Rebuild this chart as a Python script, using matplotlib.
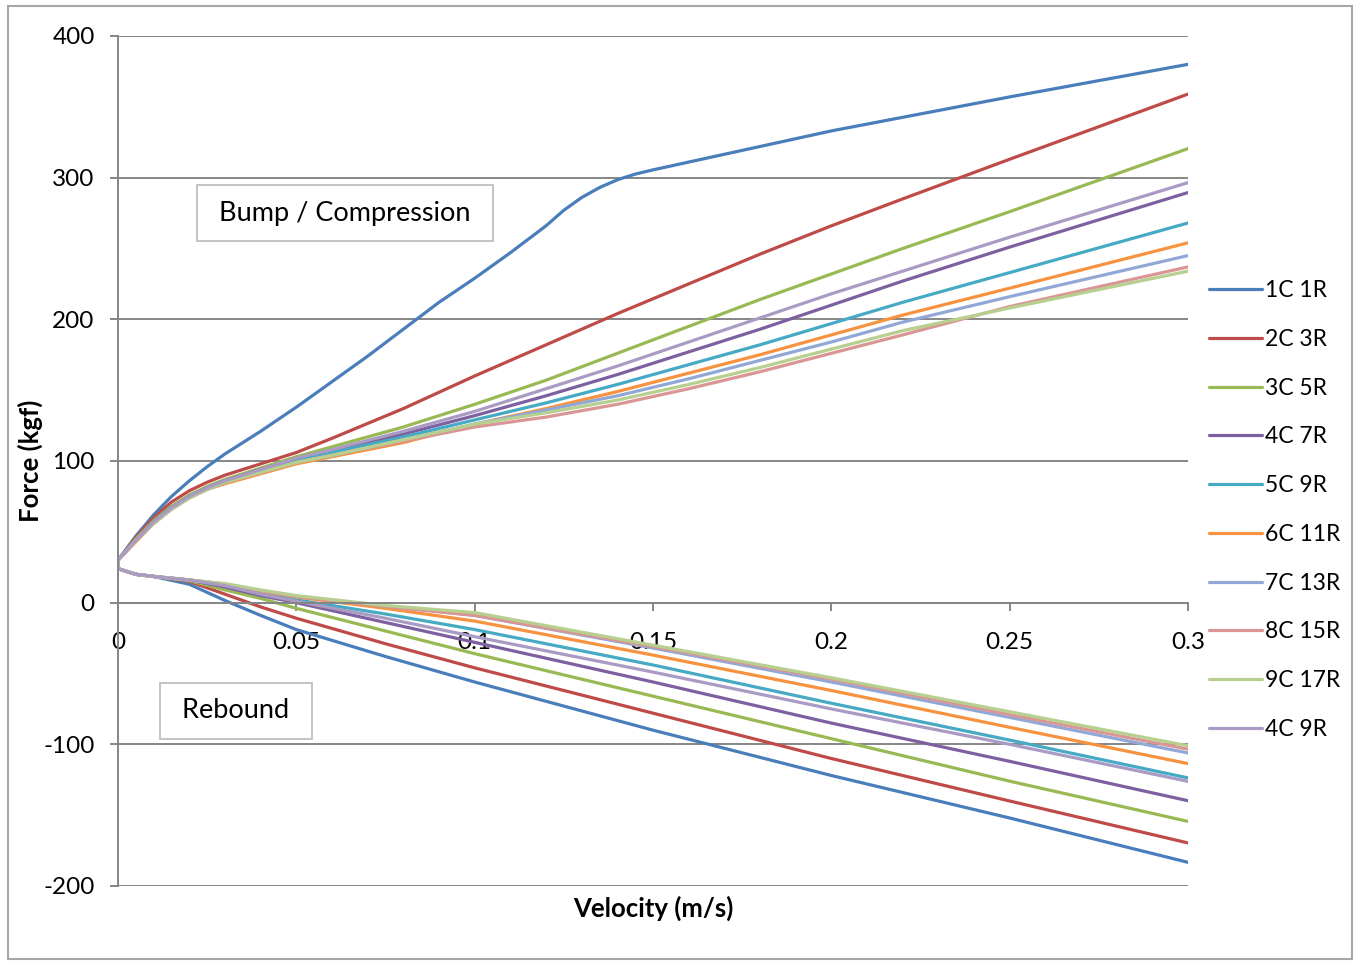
import numpy as np
import matplotlib
matplotlib.use("Agg")
import matplotlib.pyplot as plt
from matplotlib.patches import Rectangle

plt.rcParams['font.family'] = ['Lato', 'DejaVu Sans']

labels = ["1C 1R", "2C 3R", "3C 5R", "4C 7R", "5C 9R",
          "6C 11R", "7C 13R", "8C 15R", "9C 17R", "4C 9R"]
colors = ["#4A7EBB", "#BE4B48", "#98B954", "#7D60A0", "#46AAC5",
          "#F69240", "#91A8D6", "#D99694", "#B7D08F", "#A99BC4"]

# compression (bump) side, velocity in m/s, force in kgf
cx_blue = [0, .005, .01, .015, .02, .025, .03, .04, .05, .06, .07, .08, .09,
           .1, .11, .12, .125, .13, .135, .14, .145, .15, .16, .18, .2, .25, .3]
c_1c1r = [30, 47, 62, 75, 86, 96, 105, 121, 138, 156, 174, 193, 212,
          229, 247, 266, 277, 286, 293, 298.5, 302.5, 305.5, 311, 322, 333, 357, 380]

cx = [0, .005, .01, .015, .02, .025, .03, .04, .05, .06, .08, .1, .12, .14,
      .16, .18, .2, .22, .25, .3]
c_2c3r = [30, 46, 60, 71, 79, 85, 90, 98, 106, 116, 137, 160, 182, 204, 225, 246, 266, 285, 313, 359]
c_3c5r = [30, 45, 58, 68, 76, 82, 87, 95, 103, 110, 124, 140, 157, 176, 195, 214, 232, 250, 276, 320.5]
c_4c7r = [30, 44, 57, 67, 75, 81, 86, 94, 101, 107, 119, 132, 146, 161, 177, 193, 210, 227, 251, 289.5]
c_5c9r = [30, 44, 57, 67, 75, 81, 86, 93, 100, 106, 117, 129, 141, 154, 168, 182, 197, 212, 233, 268]
c_6c11r = [30, 43, 56, 66, 74, 80, 84, 91, 98, 103, 113, 126, 137, 149, 162, 175, 189, 203, 222, 254]
c_7c13r = [30, 44, 56, 66, 74, 80, 85, 92, 99, 104, 115, 126, 136, 146, 158, 171, 184, 198, 216, 245]
c_8c15r = [30, 44, 56, 66, 74, 80, 85, 92, 99, 104, 114, 124, 131, 140, 151, 163, 176, 189, 209, 237]
c_9c17r = [30, 44, 56, 66, 74, 80, 85, 92, 99, 104, 115, 126, 134, 143, 154, 166, 179, 192, 208, 234]
c_4c9r = [30, 44, 57, 67, 75, 81, 86, 94, 102, 108, 121, 135, 151, 167, 184, 201, 218, 234, 258, 296.5]

# rebound side
rx = [0, .005, .01, .02, .03, .04, .05, .075, .1, .15, .2, .25, .3]
r_1c1r = [24, 20, 18.5, 13, 1.5, -9, -19, -38, -56, -90, -122, -152, -183.3]
r_2c3r = [24, 20, 18.5, 15, 6, -3, -11, -29, -46, -78, -110, -140, -169.6]
r_3c5r = [24, 20, 18.5, 15.5, 9, 3, -4, -20, -36, -66, -96, -126, -154.4]
r_4c7r = [24, 20, 18.5, 16, 11, 5, 0, -14, -28, -56, -85, -112, -139.8]
r_5c9r = [24, 20, 18.5, 16, 12.5, 7, 2, -8, -19, -44, -71, -97, -123.7]
r_6c11r = [24, 20, 18.5, 16, 13, 8, 4, -4, -13, -37, -62, -88, -113.6]
r_7c13r = [24, 20, 18.5, 16, 13, 8.5, 4.5, -2.5, -9, -32, -56, -81, -106.1]
r_8c15r = [24, 20, 18.5, 16, 13, 8.5, 4.5, -2.5, -9, -31, -54, -79, -103.4]
r_9c17r = [24, 20, 18.5, 16, 13.5, 9, 5, -2, -7, -30, -53, -77, -101]
r_4c9r = [24, 20, 18.5, 16, 12, 6, 1, -11, -24, -49, -75, -100, -126.1]

xticks = [0, 0.05, 0.1, 0.15, 0.2, 0.25, 0.3]
xticklabels = ["0", "0.05", "0.1", "0.15", "0.2", "0.25", "0.3"]
yticks = [-200, -100, 0, 100, 200, 300, 400]

comp = [(cx_blue, c_1c1r), (cx, c_2c3r), (cx, c_3c5r), (cx, c_4c7r), (cx, c_5c9r),
        (cx, c_6c11r), (cx, c_7c13r), (cx, c_8c15r), (cx, c_9c17r), (cx, c_4c9r)]
reb = [r_1c1r, r_2c3r, r_3c5r, r_4c7r, r_5c9r, r_6c11r, r_7c13r, r_8c15r, r_9c17r, r_4c9r]

W, H = 1356, 961
fig = plt.figure(figsize=(W / 100, H / 100), dpi=100)
ax = fig.add_axes([118 / W, 1 - 886 / H, (1188 - 118) / W, (886 - 36) / H])

grid_c = "#868686"
for i in range(len(labels)):
    xs, ys = comp[i]
    # one line per setting: rebound branch back to zero, then out along compression
    x = list(rx[::-1]) + list(xs)
    y = list(reb[i][::-1]) + list(ys)
    ax.plot(x, y, color=colors[i], lw=2.3, label=labels[i], solid_capstyle="round")

ax.set_xlim(0, 0.3)
ax.set_ylim(-200, 400)
ax.set_yticks(yticks)
ax.set_yticklabels([str(v) for v in yticks])
ax.set_xticks(xticks)
ax.set_xticklabels(xticklabels)
ax.yaxis.grid(True, color=grid_c, lw=1.4)
ax.set_axisbelow(True)
for s in ["top", "right"]:
    ax.spines[s].set_visible(False)
ax.spines["bottom"].set_position(("data", 0))
ax.spines["bottom"].set_color(grid_c)
ax.spines["bottom"].set_linewidth(1.4)
ax.spines["left"].set_color(grid_c)
ax.spines["left"].set_linewidth(1.4)
ax.tick_params(axis="y", length=5.8, width=1.4, color=grid_c, pad=11, labelsize=17.5)
ax.tick_params(axis="x", length=5.8, width=1.4, color=grid_c, pad=15, labelsize=17.5)

fig.text(653 / W, 1 - 908 / H, "Velocity (m/s)", ha="center", va="center",
         fontsize=18.5, fontweight="bold")
fig.text(30 / W, 1 - 461 / H, "Force (kgf)", ha="center", va="center",
         rotation=90, fontsize=18.5, fontweight="bold")

fig.text(345 / W, 1 - 213 / H, " Bump / Compression ", ha="center", va="center",
         fontsize=19.5, bbox=dict(boxstyle="square,pad=0.57", facecolor="white",
                                  edgecolor="#BFBFBF", lw=1.3))
fig.text(236 / W, 1 - 711 / H, " Rebound ", ha="center", va="center",
         fontsize=19.5, bbox=dict(boxstyle="square,pad=0.57", facecolor="white",
                                  edgecolor="#BFBFBF", lw=1.3))

fig.legend(loc="center left", bbox_to_anchor=(1188 / W, 1 - 510 / H), frameon=False,
           fontsize=16.5, handlelength=2.35, handletextpad=0.1, labelspacing=1.21)

fig.patches.append(Rectangle((8 / W, 2 / H), 1344 / W, 953 / H, transform=fig.transFigure,
                             facecolor="none", edgecolor="#A6A6A6", lw=1.5))

fig.savefig("out.png", dpi=100)
